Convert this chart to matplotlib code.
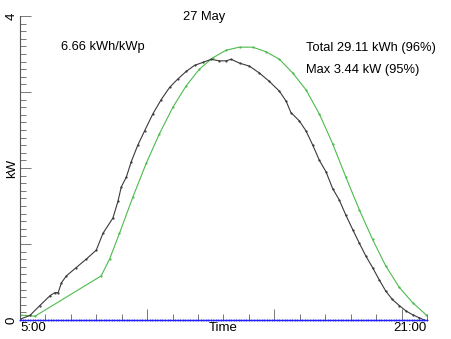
import matplotlib
matplotlib.use("Agg")
import matplotlib.pyplot as plt
import numpy as np

plt.rcParams['font.family'] = ['Liberation Sans', 'DejaVu Sans']

# clear-sky reference (green), hours / kW
ref_t = [5.0, 5.59, 8.19, 8.52, 8.91, 9.44, 9.96, 10.48, 11.01, 11.53, 12.05,
         12.58, 13.10, 13.63, 14.15, 14.67, 15.20, 15.72, 16.24, 16.77, 17.29,
         17.81, 18.34, 18.86, 19.38, 19.91, 20.43, 20.96]
ref_kw = [0.065, 0.05, 0.58, 0.80, 1.14, 1.62, 2.06, 2.45, 2.80, 3.08, 3.30,
          3.45, 3.55, 3.59, 3.59, 3.53, 3.43, 3.25, 3.03, 2.71, 2.32,
          1.88, 1.45, 1.06, 0.71, 0.43, 0.23, 0.07]

# measured output (black)
pv_t = [5.0, 5.39, 5.78, 6.18, 6.37, 6.5, 6.63, 6.82, 7.21, 7.60, 8.00, 8.26,
        8.65, 8.85, 8.98, 9.18, 9.37, 9.63, 9.90, 10.22, 10.55, 10.88, 11.20,
        11.53, 11.86, 12.19, 12.51, 12.84, 13.10, 13.30, 13.63, 14.02, 14.41,
        14.80, 15.20, 15.46, 15.65, 15.98, 16.24, 16.51, 16.77, 17.03, 17.29,
        17.55, 17.81, 18.08, 18.34, 18.60, 18.86, 19.12, 19.38, 19.64, 19.91,
        20.17, 20.43, 20.69, 20.89]
pv_kw = [0.01, 0.06, 0.19, 0.32, 0.36, 0.36, 0.49, 0.58, 0.69, 0.80, 0.92, 1.14,
         1.34, 1.56, 1.75, 1.88, 2.08, 2.30, 2.49, 2.71, 2.90, 3.06, 3.17,
         3.27, 3.35, 3.39, 3.43, 3.41, 3.41, 3.43, 3.38, 3.34, 3.25,
         3.14, 3.01, 2.88, 2.73, 2.62, 2.49, 2.30, 2.10, 1.95, 1.73,
         1.58, 1.38, 1.19, 1.01, 0.84, 0.69, 0.53, 0.38, 0.27, 0.19,
         0.12, 0.07, 0.03, 0.00]

# zero baseline (blue)
base_t = np.arange(5.0, 21.01, 0.1)
base_kw = np.zeros(len(base_t))

fig = plt.figure(figsize=(4.52, 3.39), dpi=100)
ax = fig.add_axes([20 / 452, 1 - 320 / 339, 407 / 452, 304 / 339])

ax.plot(ref_t, ref_kw, color="#4cbb4c", lw=0.8, marker=".", ms=1.2)
ax.plot(pv_t, pv_kw, color="#3a3a3a", lw=0.8, marker=".", ms=1.2)
ax.plot(base_t, base_kw, color="#2020ff", lw=1.0, marker="+", ms=2,
        mew=0.5, clip_on=False, zorder=5)

ax.set_xlim(5, 21)
ax.set_ylim(0, 4)
ax.spines["top"].set_visible(False)
ax.spines["right"].set_visible(False)
for s in ("left", "bottom"):
    ax.spines[s].set_color("#555555")
    ax.spines[s].set_linewidth(0.8)

ax.set_yticks([0, 1, 2, 3, 4])
ax.set_yticks(np.arange(0, 4.01, 0.1), minor=True)
ax.set_xticks([10, 15, 20])
ax.set_xticks(np.arange(5, 21.01, 1), minor=True)
ax.tick_params(which="both", direction="in", color="#777777", width=0.7,
               labelleft=False, labelbottom=False)
ax.tick_params(which="major", length=8)
ax.tick_params(which="minor", length=4)

# axis labels as text, IDL style
ax.text(-0.02, 0, "0", transform=ax.transAxes, rotation=90,
        ha="center", va="center", fontsize=9.5)
ax.text(-0.02, 1, "4", transform=ax.transAxes, rotation=90,
        ha="center", va="center", fontsize=9.5)
ax.text(-0.02, 0.5, "kW", transform=ax.transAxes, rotation=90,
        ha="center", va="center", fontsize=9.5)
ax.text(0, -0.027, "5:00", transform=ax.transAxes, ha="left", va="center",
        fontsize=9.5)
ax.text(0.5, -0.027, "Time", transform=ax.transAxes, ha="center", va="center",
        fontsize=9.5)
ax.text(1, -0.027, "21:00", transform=ax.transAxes, ha="right", va="center",
        fontsize=9.5)

fig.text(204 / 452, 1 - 17 / 339, "27 May", ha="center", va="center",
         fontsize=9.3)
fig.text(61 / 452, 1 - 47 / 339, "6.66 kWh/kWp", ha="left", va="center",
         fontsize=9.3)
fig.text(306 / 452, 1 - 48 / 339, "Total 29.11 kWh (96%)", ha="left",
         va="center", fontsize=9.3)
fig.text(306 / 452, 1 - 70 / 339, "Max 3.44 kW (95%)", ha="left",
         va="center", fontsize=9.3)

fig.savefig("out.png", dpi=100)
